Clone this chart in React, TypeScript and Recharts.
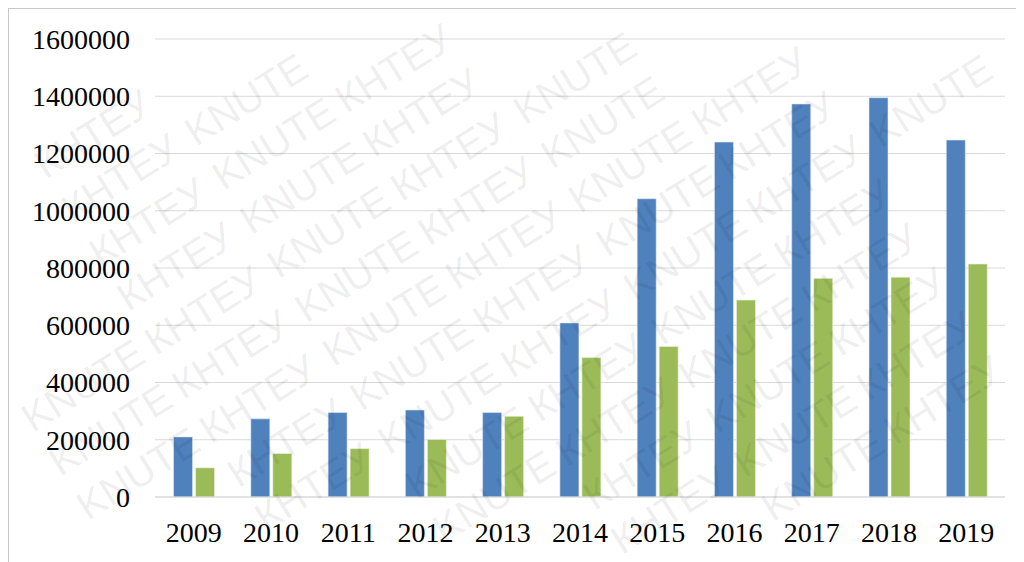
import React from "react";
import { BarChart, Bar, XAxis, YAxis, CartesianGrid } from "recharts";

const years = ["2009", "2010", "2011", "2012", "2013", "2014", "2015", "2016", "2017", "2018", "2019"];
const seriesA = [210000, 273000, 295000, 304000, 295000, 608000, 1042000, 1240000, 1373000, 1395000, 1247000];
const seriesB = [102000, 152000, 169000, 201000, 282000, 487000, 526000, 688000, 764000, 768000, 814000];
const yTicks = [0, 200000, 400000, 600000, 800000, 1000000, 1200000, 1400000, 1600000];
const marks = ["КНТЕУ", "KNUTE"];

const data = years.map((y, i) => ({ year: y, a: seriesA[i], b: seriesB[i] }));

const serif = "'Times New Roman', 'Liberation Serif', serif";

// background watermark, only whole words that fit inside the frame
const Watermark = () => {
  const ang = (-32 * Math.PI) / 180;
  const cx = 512;
  const cy = 281;
  const rot = (x: number, y: number) => [
    cx + (x - cx) * Math.cos(ang) - (y - cy) * Math.sin(ang),
    cy + (x - cx) * Math.sin(ang) + (y - cy) * Math.cos(ang),
  ];
  const words = [];
  for (let r = 0; r < 32; r++) {
    const y = -520 + r * 52;
    const shift = r % 2 === 0 ? 0 : -145;
    for (let k = 0; k < 14; k++) {
      const x = -700 + shift + k * 145;
      const w = 134;
      const pts = [rot(x, y - 30), rot(x + w, y - 30), rot(x, y + 2), rot(x + w, y + 2)];
      if (pts.every(([px, py]) => px >= 10 && px <= 1022 && py >= 10 && py <= 560)) {
        words.push(
          <text key={r + "-" + k} x={x} y={y} fontSize={40} fontFamily="'Liberation Sans', Arial, sans-serif" fill="#000" fillOpacity={0.08}>
            {marks[(k + r) % 2]}
          </text>
        );
      }
    }
  }
  return (
    <svg width={1024} height={562} style={{ position: "absolute", left: -9, top: -9, pointerEvents: "none" }}>
      <g transform={`rotate(-32 ${cx} ${cy})`}>{words}</g>
    </svg>
  );
};

export default function App() {
  return (
    <div style={{ position: "relative", width: 1016, height: 554, borderTop: "1px solid #c8c8c8", borderLeft: "1px solid #c8c8c8", background: "#fff", overflow: "hidden" }}>
      <BarChart
        width={1015}
        height={553}
        data={data}
        margin={{ top: 30, right: 19, bottom: 5, left: 0 }}
        barCategoryGap="24%"
        barGap={3}
      >
        <CartesianGrid vertical={false} stroke="#d9d9d9" />
        <XAxis
          dataKey="year"
          axisLine={{ stroke: "#d9d9d9" }}
          tickLine={false}
          tickSize={0}
          tickMargin={25}
          height={60}
          tick={{ fontSize: 28, fontFamily: serif, fill: "#000" }}
        />
        <YAxis
          ticks={yTicks}
          domain={[0, 1600000]}
          interval={0}
          axisLine={false}
          tickLine={false}
          tickSize={0}
          tickMargin={25}
          width={146}
          tick={{ fontSize: 28, fontFamily: serif, fill: "#000" }}
        />
        <Bar dataKey="a" fill="#4F81BD" stroke="#dfe8f3" strokeWidth={0.6} isAnimationActive={false} />
        <Bar dataKey="b" fill="#9BBB59" stroke="#eef3e4" strokeWidth={0.6} isAnimationActive={false} />
      </BarChart>
      <Watermark />
    </div>
  );
}
